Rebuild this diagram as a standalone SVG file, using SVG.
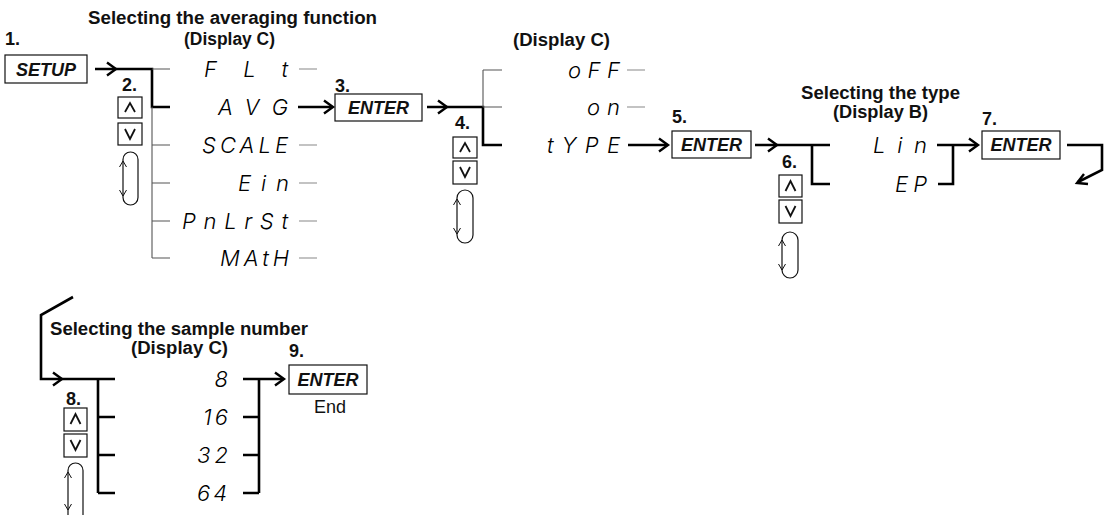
<svg xmlns="http://www.w3.org/2000/svg" width="1106" height="515" viewBox="0 0 1106 515">
<defs>
<style>
.h{font-family:"Liberation Sans",Arial,sans-serif;font-weight:bold;font-size:18px;fill:#111}
.n{font-family:"Liberation Sans",Arial,sans-serif;font-weight:bold;font-size:18px;fill:#111}
.k{font-family:"Liberation Sans",Arial,sans-serif;font-weight:bold;font-style:italic;font-size:18px;fill:#111;text-anchor:middle}
.r{font-family:"Liberation Sans",Arial,sans-serif;font-size:18px;fill:#111;text-anchor:middle}
.s{font-family:Inter,"Noto Sans","Liberation Sans",sans-serif;font-weight:300;font-style:italic;font-size:22px;fill:#000;text-anchor:end}
.box{fill:#fff;stroke:#111;stroke-width:1.2}
.thick{fill:none;stroke:#000;stroke-width:2.6;stroke-linejoin:miter}
.thin{fill:none;stroke:#555;stroke-width:1.1}
.dash{fill:none;stroke:#888;stroke-width:1.1}
.head{fill:none;stroke:#000;stroke-width:2.4;stroke-linejoin:miter;stroke-linecap:butt}
.ico{fill:none;stroke:#111;stroke-width:1.8}
.cap{fill:#fff;stroke:#111;stroke-width:1.2}
.caph{fill:none;stroke:#111;stroke-width:1}
</style>
</defs>

<g id="headings">
<text class="h" x="88" y="24" textLength="289" lengthAdjust="spacingAndGlyphs">Selecting the averaging function</text>
<text class="h" x="184" y="45" textLength="91" lengthAdjust="spacingAndGlyphs">(Display C)</text>
<text class="h" x="513" y="46" textLength="97" lengthAdjust="spacingAndGlyphs">(Display C)</text>
<text class="h" x="801" y="99" textLength="159" lengthAdjust="spacingAndGlyphs">Selecting the type</text>
<text class="h" x="833" y="118" textLength="95" lengthAdjust="spacingAndGlyphs">(Display B)</text>
<text class="h" x="50" y="335" textLength="258" lengthAdjust="spacingAndGlyphs">Selecting the sample number</text>
<text class="h" x="131" y="354" textLength="97" lengthAdjust="spacingAndGlyphs">(Display C)</text>
</g>

<g id="step1">
<text class="n" x="5" y="45">1.</text>
<rect class="box" x="5" y="55" width="82" height="28"/>
<text class="k" x="46" y="76" font-size="19">SETUP</text>
</g>

<g id="step2">
<text class="n" x="122" y="91">2.</text>
<rect class="box" x="118" y="97" width="24" height="21"/>
<polyline class="ico" points="125,112 130,103 135,112"/>
<rect class="box" x="118" y="123" width="24" height="22"/>
<polyline class="ico" points="125,129 130,139 135,129"/>
<rect class="cap" x="123" y="152" width="15" height="53" rx="7.5"/>
<polyline class="caph" points="119.5,167 123,161 126.5,167"/>
<polyline class="caph" points="119.5,190 123,196 126.5,190"/>
</g>

<g id="menu1">
<text class="s" x="288" y="77" textLength="84" lengthAdjust="spacing">FLt</text>
<text class="s" x="288" y="115" textLength="70" lengthAdjust="spacing">AVG</text>
<text class="s" x="288" y="153" textLength="86" lengthAdjust="spacing">SCALE</text>
<text class="s" x="289" y="191" textLength="51" lengthAdjust="spacing">Ein</text>
<text class="s" x="288" y="229" textLength="106" lengthAdjust="spacing">PnLrSt</text>
<text class="s" x="289" y="266" textLength="69" lengthAdjust="spacing">MAtH</text>
</g>

<g id="step3">
<text class="n" x="335" y="92">3.</text>
<rect class="box" x="335" y="94" width="87" height="27"/>
<text class="k" x="378.5" y="114">ENTER</text>
</g>

<g id="step4">
<text class="n" x="455" y="129">4.</text>
<rect class="box" x="453" y="137" width="24" height="21"/>
<polyline class="ico" points="460,152 465,143 470,152"/>
<rect class="box" x="453" y="161" width="24" height="23"/>
<polyline class="ico" points="460,167 465,177 470,167"/>
<rect class="cap" x="457" y="190" width="16" height="53" rx="8"/>
<polyline class="caph" points="453.5,205 457,199 460.5,205"/>
<polyline class="caph" points="453.5,228 457,234 460.5,228"/>
</g>

<g id="menu2">
<text class="s" x="620" y="78" textLength="52" lengthAdjust="spacing">oFF</text>
<text class="s" x="620" y="115" textLength="33" lengthAdjust="spacing">on</text>
<text class="s" x="620" y="153" textLength="73" lengthAdjust="spacing">tYPE</text>
</g>

<g id="step5">
<text class="n" x="672" y="123">5.</text>
<rect class="box" x="672" y="131" width="79" height="27"/>
<text class="k" x="711.5" y="151">ENTER</text>
</g>

<g id="step6">
<text class="n" x="782" y="168">6.</text>
<rect class="box" x="779" y="175" width="23" height="22"/>
<polyline class="ico" points="785.5,191 790.5,181 795.5,191"/>
<rect class="box" x="779" y="200" width="23" height="23"/>
<polyline class="ico" points="785.5,206 790.5,216 795.5,206"/>
<rect class="cap" x="782" y="232" width="16" height="46" rx="8"/>
<polyline class="caph" points="778.5,246 782,240 785.5,246"/>
<polyline class="caph" points="778.5,264 782,270 785.5,264"/>
</g>

<g id="menu3">
<text class="s" x="927" y="153" textLength="54" lengthAdjust="spacing">Lin</text>
<text class="s" x="927" y="192" textLength="32" lengthAdjust="spacing">EP</text>
</g>

<g id="step7">
<text class="n" x="982" y="125">7.</text>
<rect class="box" x="982" y="131" width="78" height="28"/>
<text class="k" x="1021" y="151">ENTER</text>
</g>

<g id="step8">
<text class="n" x="66" y="405">8.</text>
<rect class="box" x="64" y="408" width="23" height="23"/>
<polyline class="ico" points="70.5,424 75.5,414 80.5,424"/>
<rect class="box" x="64" y="434" width="23" height="23"/>
<polyline class="ico" points="70.5,440 75.5,450 80.5,440"/>
<rect class="cap" x="68" y="463" width="15" height="62" rx="7.5"/>
<polyline class="caph" points="64.5,478 68,472 71.5,478"/>
<polyline class="caph" points="64.5,504 68,510 71.5,504"/>
</g>

<g id="menu4">
<text class="s" x="228" y="387" textLength="15" lengthAdjust="spacing">8</text>
<text class="s" x="228" y="425" textLength="25" lengthAdjust="spacing">16</text>
<text class="s" x="228" y="463" textLength="31" lengthAdjust="spacing">32</text>
<text class="s" x="227" y="501" textLength="30" lengthAdjust="spacing">64</text>
</g>

<g id="step9">
<text class="n" x="289" y="357">9.</text>
<rect class="box" x="289" y="365" width="78" height="29"/>
<text class="k" x="328" y="386">ENTER</text>
<text class="r" x="330" y="413">End</text>
</g>

<g id="connectors">
<path class="thick" d="M95 69 H152 V107 H170"/>
<polyline class="head" points="107,62.5 116,69 107,75.5"/>
<path class="thin" d="M152 69 H170 M152 107 V258 M152 145 H170 M152 183 H170 M152 221 H170 M152 258 H170"/>
<path class="dash" d="M299 69 H317 M299 145 H317 M299 183 H317 M299 221 H317 M299 258 H317"/>
<path class="thick" d="M298 107 H332"/>
<polyline class="head" points="324,100.5 333,107 324,113.5"/>
<path class="thick" d="M427 107 H483 V145 H502"/>
<polyline class="head" points="438,100.5 447,107 438,113.5"/>
<path class="thin" d="M483 70 V107 M483 70 H502 M483 107 H502"/>
<path class="dash" d="M627 70 H645 M627 107 H645"/>
<path class="thick" d="M628 145 H667"/>
<polyline class="head" points="659,138.5 668,145 659,151.5"/>
<path class="thick" d="M755 145 H830 M812 145 V184 H830"/>
<polyline class="head" points="768,138.5 777,145 768,151.5"/>
<path class="thick" d="M937 145 H977 M953 145 V184 H938"/>
<polyline class="head" points="969,138.5 978,145 969,151.5"/>
<path class="thick" d="M1067 145 H1102 V170 L1078 182"/>
<polyline class="head" points="1084,174 1077,183 1088,184"/>
<path class="thick" d="M73 297 L41 315 V379 H115 M98 379 V493 M98 417 H115 M98 455 H115 M98 493 H115"/>
<polyline class="head" points="53,372.5 62,379 53,385.5"/>
<path class="thick" d="M243 379 H283 M259 379 V493 M243 417 H259 M243 455 H259 M243 493 H259"/>
<polyline class="head" points="275,372.5 284,379 275,385.5"/>
</g>
</svg>
